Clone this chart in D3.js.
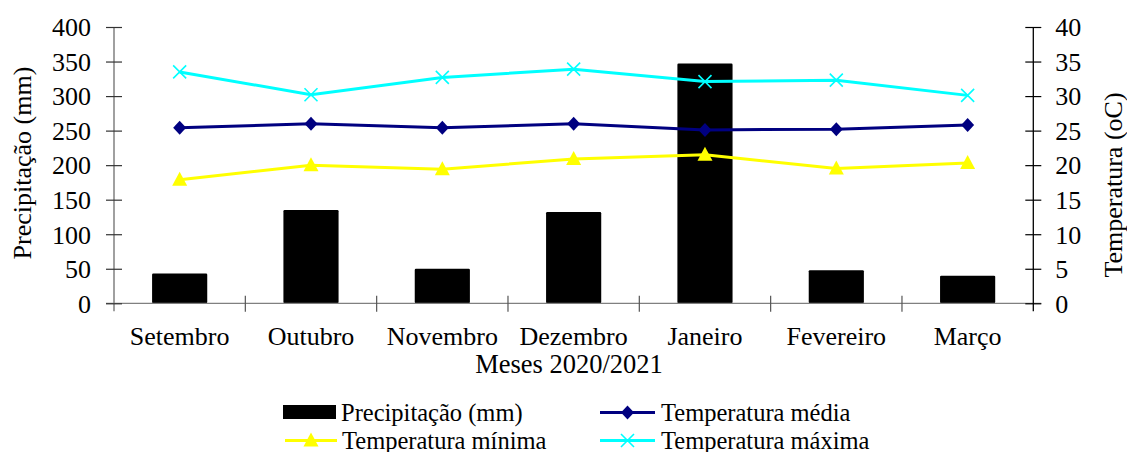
<!DOCTYPE html>
<html>
<head>
<meta charset="utf-8">
<script src="https://cdn.jsdelivr.net/npm/d3@7"></script>
<style>
  html, body { margin: 0; padding: 0; background: #fff; }
  svg { display: block; font-family: "Liberation Serif", "Times New Roman", serif; }
</style>
</head>
<body>
<svg id="chart" width="1127" height="452"></svg>
<script>
// Monthly climate data, Sept 2020 – March 2021
const months = ["Setembro", "Outubro", "Novembro", "Dezembro", "Janeiro", "Fevereiro", "Março"];
const precipitation = [43, 135, 50, 132, 347, 48, 40];      // mm
const tempMean = [25.4, 26.0, 25.4, 26.0, 25.1, 25.2, 25.8]; // °C
const tempMin  = [17.9, 20.0, 19.4, 20.9, 21.5, 19.5, 20.3]; // °C
const tempMax  = [33.5, 30.2, 32.7, 33.9, 32.1, 32.3, 30.1]; // °C
const precipTicks = [0, 50, 100, 150, 200, 250, 300, 350, 400];
const tempTicks = [0, 5, 10, 15, 20, 25, 30, 35, 40];

const svg = d3.select("#chart");
const plotLeft = 114, plotRight = 1033.3, plotTop = 27, plotBottom = 303.3;

const x = d3.scaleBand().domain(months).range([plotLeft, plotRight]).padding(0);
const xBar = d3.scaleBand().domain(months).range([plotLeft, plotRight])
  .paddingInner(0.58).paddingOuter(0.29);
const yP = d3.scaleLinear().domain([0, 400]).range([plotBottom, plotTop]);
const yT = d3.scaleLinear().domain([0, 40]).range([plotBottom, plotTop]);
const cx = m => x(m) + x.bandwidth() / 2;

// Bars: precipitation
svg.append("g").selectAll("rect")
  .data(months)
  .join("rect")
  .attr("x", m => xBar(m))
  .attr("width", xBar.bandwidth())
  .attr("y", (m, i) => yP(precipitation[i]))
  .attr("height", (m, i) => plotBottom - yP(precipitation[i]))
  .attr("rx", 1.2)
  .attr("fill", "#000");

// Bottom axis (category boundaries get crossing ticks)
const gx = svg.append("g");
gx.append("line")
  .attr("x1", plotLeft - 8).attr("x2", plotRight + 8)
  .attr("y1", plotBottom).attr("y2", plotBottom)
  .attr("stroke", "#808080").attr("stroke-width", 1.3);
gx.selectAll("line.tk")
  .data(months.slice(1))
  .join("line").attr("class", "tk")
  .attr("x1", m => x(m)).attr("x2", m => x(m))
  .attr("y1", plotBottom - 7.5).attr("y2", plotBottom + 8.5)
  .attr("stroke", "#555").attr("stroke-width", 1.2);
gx.selectAll("text")
  .data(months)
  .join("text")
  .attr("x", cx).attr("y", 345)
  .attr("text-anchor", "middle")
  .attr("font-size", 26)
  .text(d => d);

// Left axis: precipitation
const axL = svg.append("g").attr("transform", `translate(${plotLeft},0)`)
  .call(d3.axisLeft(yP).tickValues(precipTicks).tickSize(8).tickPadding(15));
axL.select(".domain").attr("d", `M0,${plotTop}V${plotBottom + 8}`).attr("stroke", "#808080").attr("stroke-width", 1.5);
axL.selectAll(".tick line").attr("x1", 8).attr("x2", -8).attr("stroke", "#333").attr("stroke-width", 1.2);
axL.selectAll(".tick text").attr("font-size", 26).attr("font-family", "Liberation Serif, serif")
  .attr("fill", "#000").attr("dy", "0.34em");

// Right axis: temperature
const axR = svg.append("g").attr("transform", `translate(${plotRight},0)`)
  .call(d3.axisRight(yT).tickValues(tempTicks).tickSize(8).tickPadding(14));
axR.select(".domain").attr("d", `M0,${plotTop}V${plotBottom + 8}`).attr("stroke", "#000").attr("stroke-width", 1.3);
axR.selectAll(".tick line").attr("x1", -8).attr("x2", 8).attr("stroke", "#000").attr("stroke-width", 1.2);
axR.selectAll(".tick text").attr("font-size", 26).attr("font-family", "Liberation Serif, serif")
  .attr("fill", "#000").attr("dy", "0.34em");

// Axis titles
svg.append("text")
  .attr("transform", "translate(31,163) rotate(-90)")
  .attr("text-anchor", "middle").attr("font-size", 26)
  .text("Precipitação (mm)");
svg.append("text")
  .attr("transform", "translate(1122,185) rotate(-90)")
  .attr("text-anchor", "middle").attr("font-size", 26)
  .text("Temperatura (oC)");
svg.append("text")
  .attr("x", 569).attr("y", 373)
  .attr("text-anchor", "middle").attr("font-size", 26.5)
  .text("Meses 2020/2021");

// Marker shapes
const markerPath = {
  diamond: "M0,-7L6.5,0L0,7L-6.5,0Z",
  triangle: "M0,-8L7.5,6L-7.5,6Z",
  cross: "M-6.5,-6.5L6.5,6.5M-6.5,6.5L6.5,-6.5"
};
function styleMarker(sel, color, kind) {
  sel.attr("d", markerPath[kind]);
  if (kind === "cross") sel.attr("fill", "none").attr("stroke", color).attr("stroke-width", 1.6);
  else sel.attr("fill", color);
}

function drawSeries(values, color, kind) {
  const line = d3.line().x((d, i) => cx(months[i])).y(d => yT(d));
  const g = svg.append("g");
  g.append("path").datum(values)
    .attr("d", line).attr("fill", "none")
    .attr("stroke", color).attr("stroke-width", 3);
  const pts = g.selectAll("path.m").data(values).join("path").attr("class", "m")
    .attr("transform", (d, i) => `translate(${cx(months[i])},${yT(d)})`);
  styleMarker(pts, color, kind);
}
drawSeries(tempMin, "#ffff00", "triangle");
drawSeries(tempMean, "#000080", "diamond");
drawSeries(tempMax, "#00ffff", "cross");

// Legend
const lg = svg.append("g").attr("font-size", 24.5);
lg.append("rect").attr("x", 283).attr("y", 405).attr("width", 53).attr("height", 14).attr("fill", "#000");
lg.append("text").attr("x", 341).attr("y", 421).text("Precipitação (mm)");

function legendLine(x0, x1, y, textX, color, kind, label) {
  lg.append("line").attr("x1", x0).attr("x2", x1).attr("y1", y).attr("y2", y)
    .attr("stroke", color).attr("stroke-width", 3);
  const p = lg.append("path").attr("transform", `translate(${(x0 + x1) / 2},${y})`);
  styleMarker(p, color, kind);
  lg.append("text").attr("x", textX).attr("y", y + 8.5).text(label);
}
legendLine(600, 655, 412.5, 661, "#000080", "diamond", "Temperatura média");
legendLine(285, 337, 440.5, 342, "#ffff00", "triangle", "Temperatura mínima");
legendLine(600, 655, 440.5, 661, "#00ffff", "cross", "Temperatura máxima");
</script>
</body>
</html>
